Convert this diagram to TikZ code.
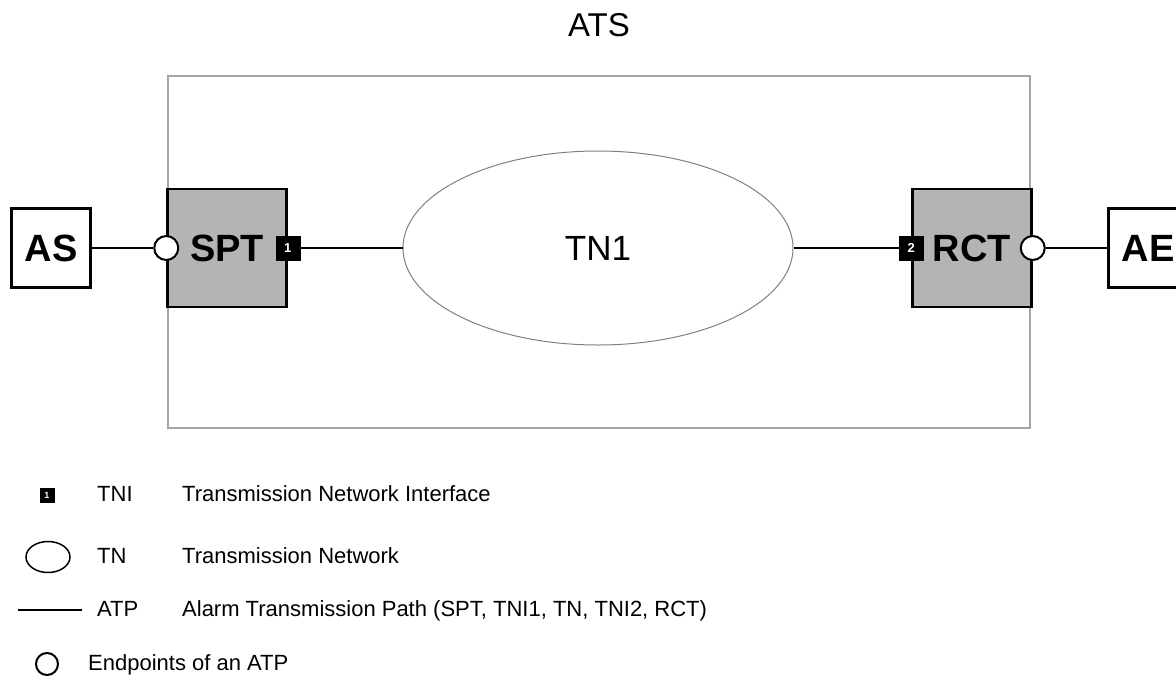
\documentclass[tikz,border=0pt]{standalone}
\usepackage{fontspec}
\setmainfont{Liberation Sans}
\usetikzlibrary{shapes.geometric}

\definecolor{grisequipo}{RGB}{180,180,180}
\definecolor{grismarco}{RGB}{165,165,165}

\begin{document}
\begin{tikzpicture}[
    x=1pt,
    y=-1pt,
    caja/.style={draw=black,line width=2.5pt,fill=white,inner sep=0pt,
        minimum width=79pt,minimum height=79pt,
        font=\fontsize{38}{40}\selectfont\bfseries},
    equipo/.style={caja,fill=grisequipo,minimum width=119pt,minimum height=118pt},
    extremo/.style={circle,draw=black,line width=2pt,fill=white,
        minimum size=24pt,inner sep=0pt},
    interfaz/.style={draw=black,fill=black,inner sep=0pt,minimum size=24pt,
        text=white,font=\fontsize{13}{13}\selectfont\bfseries},
    enlace/.style={line width=2.6pt},
    leyenda/.style={anchor=west,inner sep=0pt,text height=16pt,text depth=4pt,
        font=\fontsize{22}{24}\selectfont}
]
    \useasboundingbox (0,0) rectangle (1176,678);

    % ATS frame
    \node[draw=grismarco,line width=1.5pt,minimum width=862pt,minimum height=352pt]
        (marco) at (599,252) {};
    \node[font=\fontsize{33}{36}\selectfont] (ats) at (599,25) {ATS};

    % equipment
    \node[caja] (as) at (51,248) {AS};
    \node[equipo] (spt) at (227,248) {SPT};
    \node[equipo] (rct) at (972,248) {RCT};
    \node[caja] (ae) at (1148,248) {AE};
    \node[ellipse,draw=gray,line width=1pt,minimum width=390pt,minimum height=194pt,
        inner sep=0pt,font=\fontsize{35}{38}\selectfont] (tn) at (598,248) {TN1};

    % endpoints and interfaces
    \node[extremo] (ext1) at (spt.west) {};
    \node[extremo] (ext2) at (rct.east) {};
    \node[interfaz] (tni1) at (spt.east) {1};
    \node[interfaz] (tni2) at (rct.west) {2};

    \draw[enlace] (as) -- (ext1);
    \draw[enlace] (tni1) -- (tn);
    \draw[enlace] (tn) -- (tni2);
    \draw[enlace] (ext2) -- (ae);

    % legend
    \node[interfaz,minimum size=14pt,font=\fontsize{9}{9}\selectfont\bfseries]
        (symtni) at (47,495) {1};
    \node[leyenda] (abtni) at (97,495) {TNI};
    \node[leyenda] (txtni) at (182,495) {Transmission Network Interface};

    \node[ellipse,draw=black,line width=1.5pt,minimum width=44pt,minimum height=31pt,
        inner sep=0pt] (symtn) at (48,557) {};
    \node[leyenda] (abtn) at (97,557) {TN};
    \node[leyenda] (txtn) at (182,557) {Transmission Network};

    \coordinate (atpa) at (18,610);
    \coordinate (atpb) at (82,610);
    \draw[enlace] (atpa) -- (atpb);
    \node[leyenda] (abatp) at (97,610) {ATP};
    \node[leyenda] (txatp) at (182,610) {Alarm Transmission Path (SPT, TNI1, TN, TNI2, RCT)};

    \node[extremo,minimum size=22pt] (symext) at (47,664) {};
    \node[leyenda] (txext) at (88,664) {Endpoints of an ATP};
\end{tikzpicture}
\end{document}
